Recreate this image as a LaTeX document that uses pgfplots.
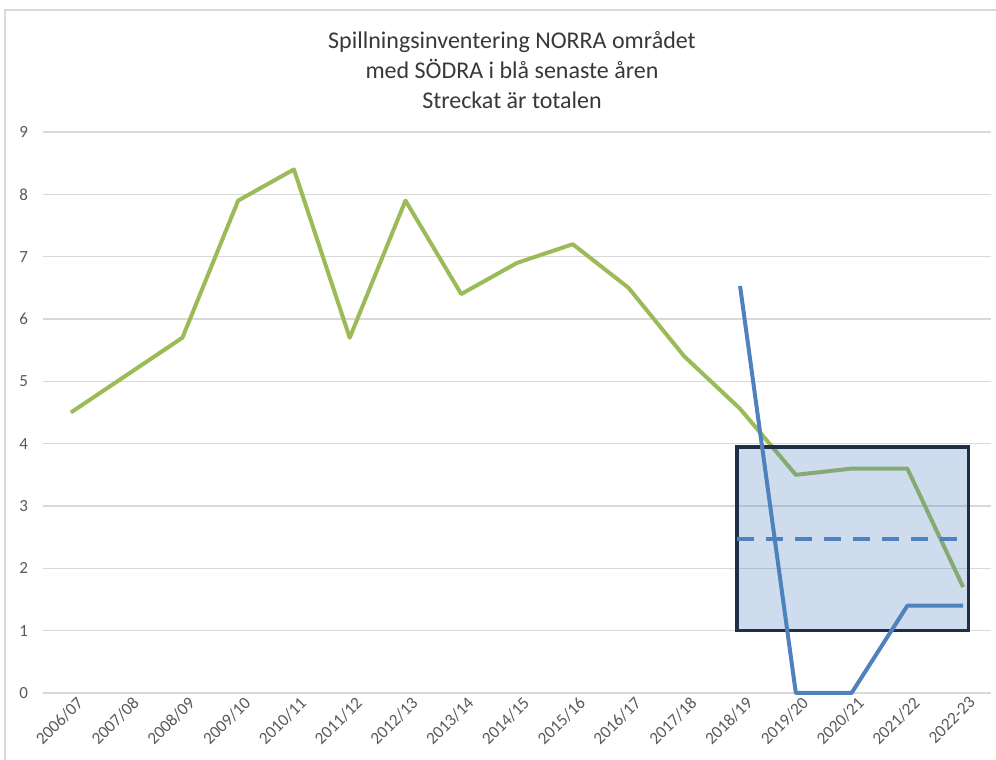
\documentclass[border=0pt]{standalone}
\usepackage{fontspec}
\setmainfont{Carlito}
\usepackage{pgfplots}
\pgfplotsset{compat=1.18}

\definecolor{grn}{HTML}{9BBB59}
\definecolor{blu}{HTML}{4F81BD}
\definecolor{boxedge}{HTML}{1F2F4A}
\definecolor{gridg}{HTML}{D9D9D9}
\definecolor{txt}{HTML}{595959}

\begin{document}
\begin{tikzpicture}[x=0.5pt,y=0.5pt]
\useasboundingbox (0,0) rectangle (996,760);
% chart frame
\draw[gridg, line width=1pt] (5,0) -- (5,750) -- (996,750);
\node[align=center, text=black!78, font=\fontsize{12}{15}\selectfont] at (512,690)
  {Spillningsinventering NORRA området\\med SÖDRA i blå senaste åren\\Streckat är totalen};
\begin{axis}[
    at={(21.5pt,33.5pt)}, anchor=south west, scale only axis,
    width=474pt, height=280.5pt,
    xmin=-0.5, xmax=16.5, ymin=0, ymax=9,
    ytick={0,1,...,9},
    xtick={0,1,...,16},
    xticklabels={2006/07,2007/08,2008/09,2009/10,2010/11,2011/12,2012/13,2013/14,2014/15,2015/16,2016/17,2017/18,2018/19,2019/20,2020/21,2021/22,2022-23},
    ymajorgrids, grid style={gridg, line width=0.6pt},
    axis line style={draw=none},
    major tick length=0pt,
    tick label style={text=txt, font=\fontsize{8.5}{10}\selectfont},
    xticklabel style={font=\fontsize{8.6}{10}\selectfont},
    /pgf/number format/assume math mode=true,
    yticklabel style={xshift=-4pt},
    xticklabel style={rotate=45, anchor=north east, inner sep=1pt, xshift=2pt, yshift=-1.5pt},
    clip=false,
]
% NORRA
\addplot[grn, line width=2pt, line join=round] coordinates {
 (0,4.5) (1,5.1) (2,5.7) (3,7.9) (4,8.4) (5,5.7) (6,7.9) (7,6.4) (8,6.9)
 (9,7.2) (10,6.5) (11,5.4) (12,4.56) (13,3.5) (14,3.6) (15,3.6) (16,1.7)
};
% range box
\addplot[draw=boxedge, line width=1.8pt, fill=blu, fill opacity=0.28] coordinates {
 (11.95,1.0) (16.1,1.0) (16.1,3.95) (11.95,3.95)
} -- cycle;
% total (dashed)
\addplot[blu, line width=2pt, dash pattern=on 8.5pt off 6pt] coordinates {
 (11.95,2.47) (16,2.47)
};
% SÖDRA
\addplot[blu, line width=2pt, line join=round] coordinates {
 (12,6.53) (13,0) (14,0) (15,1.4) (16,1.4)
};
\end{axis}
\end{tikzpicture}
\end{document}
